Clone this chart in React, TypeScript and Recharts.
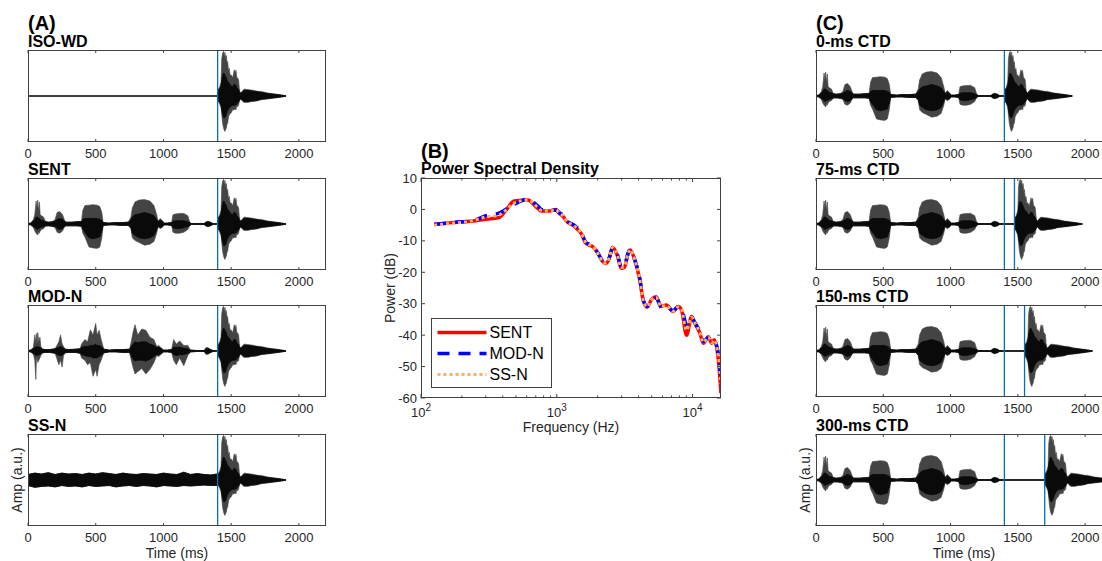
import { ComposedChart, Area, Line, XAxis, YAxis, ReferenceLine } from 'recharts'

const FONT = '"Liberation Sans", Arial, Helvetica, sans-serif'
const AXIS = '#404040'
const TXT = '#262626'
const MARK = '#0072BD'
const WAVE_OUTER = '#444444'
const WAVE_CORE = '#0a0a0a'

// ---- waveform envelopes (time in ms, amplitude in a.u.) ----
// outer = extreme peaks (grey in the figure), core = dense part (black)
const isoT = [0, 1395]
const isoHi = [0, 0]
const isoLo = [0, 0]

const sentT = [0, 20, 40, 50, 60, 66, 72, 78, 84, 90, 100, 115, 128, 150, 180, 200, 215, 235, 255, 270, 280, 320, 360, 395, 405, 420, 450, 480, 510, 530, 545, 555, 600, 640, 690, 740, 760, 770, 790, 820, 860, 900, 930, 950, 960, 975, 990, 1005, 1030, 1060, 1070, 1090, 1120, 1150, 1180, 1195, 1205, 1250, 1300, 1315, 1330, 1350, 1365, 1390]
const sentHi = [0.01, 0.02, 0.1, 0.2, 0.5, 0.35, 0.52, 0.3, 0.48, 0.2, 0.18, 0.15, 0.06, 0.04, 0.05, 0.1, 0.25, 0.27, 0.2, 0.08, 0.04, 0.04, 0.05, 0.06, 0.3, 0.4, 0.41, 0.42, 0.41, 0.38, 0.25, 0.03, 0.02, 0.03, 0.03, 0.04, 0.15, 0.35, 0.48, 0.52, 0.53, 0.5, 0.4, 0.2, 0.06, 0.12, 0.08, 0.02, 0.02, 0.03, 0.2, 0.22, 0.23, 0.23, 0.18, 0.03, 0.01, 0.01, 0.01, 0.05, 0.06, 0.04, 0.01, 0.005]
const sentLo = [-0.01, -0.02, -0.08, -0.15, -0.2, -0.22, -0.24, -0.18, -0.2, -0.15, -0.12, -0.1, -0.05, -0.04, -0.05, -0.08, -0.18, -0.2, -0.15, -0.06, -0.04, -0.04, -0.04, -0.05, -0.2, -0.28, -0.5, -0.52, -0.53, -0.5, -0.3, -0.03, -0.02, -0.02, -0.03, -0.03, -0.1, -0.3, -0.36, -0.4, -0.46, -0.44, -0.38, -0.2, -0.06, -0.1, -0.08, -0.02, -0.02, -0.03, -0.18, -0.2, -0.2, -0.18, -0.12, -0.03, -0.01, -0.01, -0.01, -0.05, -0.06, -0.04, -0.01, -0.005]
const sentCoreHi = [0.01, 0.02, 0.06, 0.1, 0.15, 0.15, 0.15, 0.12, 0.12, 0.1, 0.08, 0.07, 0.05, 0.04, 0.05, 0.06, 0.1, 0.12, 0.1, 0.06, 0.04, 0.04, 0.05, 0.05, 0.1, 0.12, 0.12, 0.12, 0.12, 0.1, 0.08, 0.03, 0.02, 0.03, 0.03, 0.04, 0.08, 0.15, 0.2, 0.22, 0.25, 0.22, 0.18, 0.1, 0.05, 0.08, 0.06, 0.02, 0.02, 0.03, 0.06, 0.07, 0.07, 0.07, 0.05, 0.03, 0.01, 0.01, 0.01, 0.04, 0.05, 0.03, 0.01, 0.005]
const sentCoreLo = [-0.01, -0.02, -0.05, -0.08, -0.1, -0.12, -0.12, -0.1, -0.1, -0.08, -0.07, -0.06, -0.04, -0.04, -0.05, -0.05, -0.1, -0.12, -0.1, -0.05, -0.04, -0.04, -0.04, -0.05, -0.12, -0.18, -0.3, -0.32, -0.3, -0.28, -0.15, -0.03, -0.02, -0.02, -0.03, -0.03, -0.08, -0.2, -0.25, -0.3, -0.32, -0.3, -0.25, -0.12, -0.05, -0.08, -0.06, -0.02, -0.02, -0.03, -0.08, -0.1, -0.1, -0.08, -0.06, -0.03, -0.01, -0.01, -0.01, -0.04, -0.05, -0.03, -0.01, -0.005]

const modT = [0, 20, 40, 50, 58, 62, 66, 72, 80, 88, 95, 105, 125, 160, 200, 228, 240, 252, 262, 275, 300, 350, 385, 395, 420, 440, 460, 480, 500, 510, 525, 540, 560, 600, 650, 700, 750, 762, 775, 790, 810, 840, 870, 900, 930, 950, 965, 980, 1000, 1030, 1060, 1075, 1095, 1120, 1150, 1180, 1200, 1250, 1300, 1315, 1330, 1350, 1365, 1390]
const modHi = [0.01, 0.02, 0.08, 0.35, 0.2, 0.38, 0.15, 0.4, 0.2, 0.3, 0.1, 0.05, 0.03, 0.03, 0.05, 0.2, 0.35, 0.15, 0.1, 0.04, 0.03, 0.04, 0.05, 0.15, 0.25, 0.2, 0.46, 0.35, 0.6, 0.35, 0.45, 0.25, 0.04, 0.02, 0.03, 0.03, 0.04, 0.2, 0.4, 0.57, 0.35, 0.48, 0.45, 0.3, 0.25, 0.1, 0.12, 0.08, 0.02, 0.02, 0.03, 0.25, 0.15, 0.22, 0.12, 0.12, 0.02, 0.01, 0.01, 0.08, 0.07, 0.03, 0.01, 0.005]
const modLo = [-0.01, -0.02, -0.08, -0.2, -0.62, -0.2, -0.15, -0.25, -0.2, -0.15, -0.1, -0.05, -0.03, -0.03, -0.05, -0.3, -0.2, -0.35, -0.1, -0.04, -0.03, -0.03, -0.05, -0.15, -0.2, -0.3, -0.25, -0.55, -0.4, -0.55, -0.3, -0.2, -0.04, -0.02, -0.02, -0.03, -0.03, -0.2, -0.35, -0.5, -0.45, -0.38, -0.5, -0.4, -0.25, -0.1, -0.12, -0.08, -0.02, -0.02, -0.03, -0.2, -0.3, -0.15, -0.32, -0.1, -0.02, -0.01, -0.01, -0.08, -0.07, -0.03, -0.01, -0.005]
const modCoreHi = [0.01, 0.02, 0.05, 0.08, 0.08, 0.1, 0.08, 0.1, 0.08, 0.08, 0.06, 0.04, 0.03, 0.03, 0.05, 0.08, 0.1, 0.08, 0.06, 0.04, 0.03, 0.04, 0.05, 0.08, 0.1, 0.1, 0.12, 0.12, 0.15, 0.12, 0.12, 0.1, 0.04, 0.02, 0.03, 0.03, 0.04, 0.1, 0.15, 0.2, 0.18, 0.2, 0.2, 0.15, 0.12, 0.08, 0.08, 0.06, 0.02, 0.02, 0.03, 0.08, 0.08, 0.08, 0.06, 0.05, 0.02, 0.01, 0.01, 0.05, 0.05, 0.03, 0.01, 0.005]
const modCoreLo = [-0.01, -0.02, -0.05, -0.08, -0.1, -0.1, -0.08, -0.1, -0.08, -0.08, -0.06, -0.04, -0.03, -0.03, -0.05, -0.1, -0.1, -0.1, -0.06, -0.04, -0.03, -0.03, -0.05, -0.08, -0.1, -0.12, -0.12, -0.15, -0.15, -0.15, -0.12, -0.1, -0.04, -0.02, -0.02, -0.03, -0.03, -0.1, -0.18, -0.22, -0.2, -0.2, -0.22, -0.18, -0.12, -0.08, -0.08, -0.06, -0.02, -0.02, -0.03, -0.08, -0.1, -0.08, -0.08, -0.05, -0.02, -0.01, -0.01, -0.05, -0.05, -0.03, -0.01, -0.005]

const ssT = [0, 50, 100, 150, 200, 250, 300, 350, 400, 450, 500, 550, 600, 650, 700, 750, 800, 850, 900, 950, 1000, 1050, 1100, 1150, 1200, 1250, 1300, 1350, 1395]
const ssHi = [0.12, 0.15, 0.13, 0.16, 0.12, 0.15, 0.13, 0.14, 0.12, 0.15, 0.13, 0.16, 0.14, 0.12, 0.15, 0.13, 0.12, 0.14, 0.13, 0.12, 0.15, 0.13, 0.12, 0.17, 0.12, 0.14, 0.12, 0.11, 0.13]
const ssLo = [-0.12, -0.16, -0.14, -0.13, -0.15, -0.12, -0.14, -0.13, -0.15, -0.12, -0.14, -0.13, -0.12, -0.15, -0.13, -0.12, -0.14, -0.12, -0.13, -0.15, -0.12, -0.13, -0.14, -0.12, -0.13, -0.12, -0.11, -0.12, -0.12]

// target word, time relative to its onset
const tgtT = [0, 3, 12, 25, 30, 37, 44, 50, 54, 60, 64, 70, 74, 80, 86, 92, 99, 111, 123, 130, 135, 142, 148, 155, 160, 165, 172, 185, 197, 222, 250, 271, 300, 320, 369, 443, 505]
const tgtHi = [0.005, 0.15, 0.17, 0.3, 0.8, 0.94, 0.97, 0.85, 0.95, 0.8, 0.88, 0.7, 0.75, 0.55, 0.6, 0.45, 0.46, 0.4, 0.57, 0.5, 0.56, 0.4, 0.39, 0.35, 0.17, 0.08, 0.065, 0.12, 0.15, 0.14, 0.13, 0.12, 0.1, 0.1, 0.065, 0.035, 0.005]
const tgtLo = [-0.005, -0.12, -0.15, -0.25, -0.4, -0.6, -0.7, -0.75, -0.77, -0.72, -0.7, -0.6, -0.6, -0.45, -0.42, -0.38, -0.37, -0.3, -0.3, -0.28, -0.3, -0.22, -0.23, -0.2, -0.12, -0.08, -0.065, -0.12, -0.14, -0.14, -0.12, -0.12, -0.1, -0.08, -0.065, -0.035, -0.005]
const tgtCoreHi = [0.005, 0.12, 0.14, 0.22, 0.35, 0.45, 0.5, 0.48, 0.45, 0.42, 0.4, 0.34, 0.32, 0.28, 0.28, 0.25, 0.22, 0.2, 0.26, 0.24, 0.24, 0.18, 0.16, 0.14, 0.1, 0.07, 0.06, 0.1, 0.12, 0.12, 0.11, 0.1, 0.09, 0.08, 0.055, 0.03, 0.005]
const tgtCoreLo = [-0.005, -0.1, -0.12, -0.2, -0.3, -0.4, -0.46, -0.48, -0.46, -0.44, -0.4, -0.34, -0.32, -0.28, -0.26, -0.24, -0.22, -0.2, -0.2, -0.19, -0.2, -0.16, -0.15, -0.13, -0.1, -0.07, -0.06, -0.1, -0.12, -0.12, -0.11, -0.1, -0.09, -0.07, -0.055, -0.03, -0.005]

const targetOnset = 1400
const timeTicks = [0, 500, 1000, 1500, 2000]
const leftTitles = ['ISO-WD', 'SENT', 'MOD-N', 'SS-N']
const ctdDelays = [0, 75, 150, 300]
const ctdTitles = ['0-ms CTD', '75-ms CTD', '150-ms CTD', '300-ms CTD']

// ---- power spectral density (dB) ----
const freqs = [125, 170, 240, 300, 375, 420, 485, 610, 720, 770, 880, 990, 1040, 1120, 1170, 1340, 1510, 1640, 1840, 2000, 2180, 2300, 2440, 2580, 2810, 2980, 3150, 3330, 3480, 3750, 4090, 4320, 4630, 4990, 5400, 5890, 6420, 7190, 7830, 8290, 9030, 9840, 10400, 11330, 12000, 13070, 13830, 14400, 15500, 16200]
const psdSent = [-4.7, -4.2, -3.7, -3.1, -2.6, -0.4, 2.7, 3.0, 0.4, -0.5, -0.5, 0.0, -1.2, -2.4, -3.6, -5.3, -7.6, -10.8, -11.9, -13.8, -16.6, -17.2, -15.5, -12.0, -15.0, -18.7, -18.4, -14.5, -12.9, -16.1, -22.5, -28.8, -31.1, -28.6, -27.8, -30.9, -30.4, -32.5, -30.9, -32.0, -40.0, -34.1, -36.2, -39.4, -42.6, -40.5, -42.6, -41.5, -47.9, -58.5]
const psdMod = [-4.8, -4.2, -3.6, -2.0, -1.2, 0.0, 1.6, 3.2, 1.2, 0.0, -0.4, -0.2, -1.0, -2.0, -3.4, -5.0, -7.2, -10.5, -11.6, -13.8, -16.4, -17.0, -15.2, -12.2, -14.6, -18.2, -18.0, -14.2, -12.7, -16.0, -22.0, -28.4, -30.8, -28.9, -28.2, -31.2, -30.8, -32.2, -31.0, -31.6, -36.5, -34.5, -36.0, -39.0, -42.0, -40.8, -42.2, -41.8, -46.0, -54.5]
const psdSS = [-5.0, -4.4, -3.6, -2.4, -1.8, -0.3, 2.0, 3.0, 0.8, -0.3, -0.5, -0.1, -1.1, -2.2, -3.5, -5.2, -7.4, -10.6, -11.8, -13.9, -16.5, -17.1, -15.3, -12.1, -14.8, -18.5, -18.2, -14.4, -12.8, -16.0, -22.3, -28.6, -31.0, -28.7, -28.0, -31.0, -30.6, -32.4, -31.0, -31.8, -38.5, -34.3, -36.1, -39.2, -42.3, -40.6, -42.4, -41.6, -46.8, -55.5]
const freqTicks = [100, 200, 300, 400, 500, 600, 700, 800, 900, 1000, 2000, 3000, 4000, 5000, 6000, 7000, 8000, 9000, 10000]
const powerTicks = [-60, -50, -40, -30, -20, -10, 0, 10]
const legendItems = [
  { name: 'SENT', color: '#FF0000', dash: undefined, width: 3.5 },
  { name: 'MOD-N', color: '#0000FF', dash: '12 9', width: 3.5 },
  { name: 'SS-N', color: '#FFB060', dash: '3 3', width: 3 },
]

type Row = { t: number; v: number[]; c: number[] }

const envRows = (t: number[], hi: number[], lo: number[], cHi: number[], cLo: number[], shift = 0): Row[] =>
  t.map((x, i) => ({ t: x + shift, v: [lo[i], hi[i]], c: [cLo[i], cHi[i]] }))

const withTarget = (ctx: Row[], delay: number) => [
  ...ctx,
  ...envRows(tgtT, tgtHi, tgtLo, tgtCoreHi, tgtCoreLo, targetOnset + delay),
]

const sentRows = envRows(sentT, sentHi, sentLo, sentCoreHi, sentCoreLo)
const leftData = [
  withTarget(envRows(isoT, isoHi, isoLo, isoHi, isoLo), 0),
  withTarget(sentRows, 0),
  withTarget(envRows(modT, modHi, modLo, modCoreHi, modCoreLo), 0),
  withTarget(envRows(ssT, ssHi, ssLo, ssHi, ssLo), 0),
]
const rightData = ctdDelays.map((d) => withTarget(sentRows, d))

const psdData = freqs.map((f, i) => ({ f, sent: psdSent[i], mod: psdMod[i], ss: psdSS[i] }))

const PANEL_TOPS = [50, 178, 305, 434]
const PANEL_H = 92
const LEFT_X = 28
const LEFT_W = 298
const RIGHT_X = 816
const RIGHT_W = 296

const PSD_X = 421
const PSD_Y = 178
const PSD_W = 300
const PSD_H = 220

function TimeTick(props: any) {
  const { x, y, payload } = props
  return (
    <g>
      <line x1={x} y1={y} x2={x} y2={y - 3} stroke={AXIS} />
      <line x1={x} y1={y - PANEL_H} x2={x} y2={y - PANEL_H + 3} stroke={AXIS} />
      <text x={x} y={y + 16} textAnchor="middle" fontSize={13} fill={TXT} fontFamily={FONT}>
        {payload.value}
      </text>
    </g>
  )
}

function WavePanel({ left, top, width, data, delay }: any) {
  return (
    <div style={{ position: 'absolute', left: left - 4, top: top - 4 }}>
      <ComposedChart
        width={width + 10}
        height={4 + PANEL_H + 22}
        data={data}
        margin={{ top: 4, right: 6, bottom: 0, left: 4 }}
      >
        <XAxis
          dataKey="t"
          type="number"
          domain={[0, 2200]}
          ticks={timeTicks}
          interval={0}
          allowDataOverflow
          axisLine={false}
          tickLine={false}
          tickSize={0}
          tickMargin={0}
          height={22}
          tick={(p: any) => <TimeTick {...p} />}
        />
        <YAxis hide type="number" domain={[-1, 1]} allowDataOverflow />
        <Area
          dataKey="v"
          type="linear"
          stroke={WAVE_OUTER}
          strokeWidth={0.6}
          fill={WAVE_OUTER}
          fillOpacity={1}
          dot={false}
          activeDot={false}
          isAnimationActive={false}
        />
        <Area
          dataKey="c"
          type="linear"
          stroke={WAVE_CORE}
          strokeWidth={0.8}
          fill={WAVE_CORE}
          fillOpacity={1}
          dot={false}
          activeDot={false}
          isAnimationActive={false}
        />
        <ReferenceLine x={targetOnset} stroke={MARK} strokeWidth={1.3} />
        {delay > 0 && <ReferenceLine x={targetOnset + delay} stroke={MARK} strokeWidth={1.3} />}
      </ComposedChart>
    </div>
  )
}

const isMajor = (v: number) => v === 100 || v === 1000 || v === 10000

function FreqTick(props: any) {
  const { x, y, payload } = props
  const v = payload.value as number
  const len = isMajor(v) ? 4 : 2.5
  return (
    <g>
      <line x1={x} y1={y} x2={x} y2={y - len} stroke={AXIS} />
      <line x1={x} y1={y - PSD_H} x2={x} y2={y - PSD_H + len} stroke={AXIS} />
      {isMajor(v) && (
        <text x={x} y={y + 18.5} textAnchor="middle" fontSize={13} fill={TXT} fontFamily={FONT}>
          10
          <tspan fontSize={10} dy={-6}>
            {Math.round(Math.log10(v))}
          </tspan>
        </text>
      )}
    </g>
  )
}

function PowerTick(props: any) {
  const { x, y, payload } = props
  return (
    <g>
      <line x1={x} y1={y} x2={x + 4} y2={y} stroke={AXIS} />
      <line x1={x + PSD_W} y1={y} x2={x + PSD_W - 4} y2={y} stroke={AXIS} />
      <text x={x - 4} y={y + 4.5} textAnchor="end" fontSize={13} fill={TXT} fontFamily={FONT}>
        {payload.value}
      </text>
    </g>
  )
}

function PsdPanel() {
  return (
    <div style={{ position: 'absolute', left: PSD_X - 81, top: PSD_Y - 8 }}>
      <ComposedChart
        width={81 + PSD_W + 10}
        height={8 + PSD_H + 40}
        data={psdData}
        margin={{ top: 8, right: 10, bottom: 0, left: 0 }}
      >
        <XAxis
          dataKey="f"
          type="number"
          scale="log"
          domain={[100, 16200]}
          ticks={freqTicks}
          interval={0}
          allowDataOverflow
          axisLine={false}
          tickLine={false}
          tickSize={0}
          tickMargin={0}
          height={40}
          tick={(p: any) => <FreqTick {...p} />}
        />
        <YAxis
          type="number"
          domain={[-60, 10]}
          ticks={powerTicks}
          interval={0}
          width={81}
          axisLine={false}
          tickLine={false}
          tickSize={0}
          tickMargin={0}
          tick={(p: any) => <PowerTick {...p} />}
        />
        <Line dataKey="sent" type="monotone" stroke="#FF0000" strokeWidth={3.5} dot={false} activeDot={false} isAnimationActive={false} />
        <Line dataKey="mod" type="monotone" stroke="#0000FF" strokeWidth={3.5} strokeDasharray="12 9" dot={false} activeDot={false} isAnimationActive={false} />
        <Line dataKey="ss" type="monotone" stroke="#FFB060" strokeWidth={3} strokeDasharray="3 3" dot={false} activeDot={false} isAnimationActive={false} />
      </ComposedChart>
    </div>
  )
}

function Overlay() {
  const titleStyle = { fontFamily: FONT, fontWeight: 700, fill: '#000' } as const
  return (
    <svg width={1102} height={561} style={{ position: 'absolute', left: 0, top: 0, pointerEvents: 'none' }}>
      <text x={LEFT_X} y={29.5} fontSize={20} {...titleStyle}>(A)</text>
      <text x={PSD_X} y={158} fontSize={20} {...titleStyle}>(B)</text>
      <text x={RIGHT_X} y={29.5} fontSize={20} {...titleStyle}>(C)</text>

      {PANEL_TOPS.map((top, i) => (
        <g key={i}>
          <text x={LEFT_X} y={top - 3} fontSize={16} {...titleStyle}>{leftTitles[i]}</text>
          <rect x={LEFT_X + 0.5} y={top + 0.5} width={LEFT_W - 1} height={PANEL_H - 1} fill="none" stroke={AXIS} />
          <text x={RIGHT_X} y={top - 3} fontSize={16} {...titleStyle}>{ctdTitles[i]}</text>
          <rect x={RIGHT_X + 0.5} y={top + 0.5} width={RIGHT_W - 1} height={PANEL_H - 1} fill="none" stroke={AXIS} />
        </g>
      ))}

      <text x={LEFT_X + LEFT_W / 2} y={558} textAnchor="middle" fontSize={14} fill={TXT} fontFamily={FONT}>Time (ms)</text>
      <text x={RIGHT_X + 148} y={558} textAnchor="middle" fontSize={14} fill={TXT} fontFamily={FONT}>Time (ms)</text>
      <text transform={`translate(22, ${PANEL_TOPS[3] + PANEL_H / 2}) rotate(-90)`} textAnchor="middle" fontSize={14} fill={TXT} fontFamily={FONT}>Amp (a.u.)</text>
      <text transform={`translate(${RIGHT_X - 6}, ${PANEL_TOPS[3] + PANEL_H / 2}) rotate(-90)`} textAnchor="middle" fontSize={14} fill={TXT} fontFamily={FONT}>Amp (a.u.)</text>

      <text x={PSD_X} y={174} fontSize={16} {...titleStyle}>Power Spectral Density</text>
      <rect x={PSD_X + 0.5} y={PSD_Y + 0.5} width={PSD_W - 1} height={PSD_H - 1} fill="none" stroke={AXIS} />
      <text transform={`translate(395, ${PSD_Y + PSD_H / 2}) rotate(-90)`} textAnchor="middle" fontSize={14} fill={TXT} fontFamily={FONT}>Power (dB)</text>
      <text x={PSD_X + PSD_W / 2} y={432} textAnchor="middle" fontSize={14} fill={TXT} fontFamily={FONT}>Frequency (Hz)</text>

      <g transform="translate(431.5, 318.5)">
        <rect x={0} y={0} width={120} height={69} fill="#fff" stroke={AXIS} />
        {legendItems.map((it, i) => (
          <g key={it.name}>
            <line x1={6} y1={14 + i * 21} x2={55} y2={14 + i * 21} stroke={it.color} strokeWidth={it.width} strokeDasharray={it.dash} />
            <text x={58} y={19.5 + i * 21} fontSize={16} fill="#000" fontFamily={FONT}>{it.name}</text>
          </g>
        ))}
      </g>
    </svg>
  )
}

export default function App() {
  return (
    <div style={{ position: 'absolute', left: 0, top: 0, width: 1102, height: 561, overflow: 'hidden', background: '#fff' }}>
      {PANEL_TOPS.map((top, i) => (
        <WavePanel key={'l' + i} left={LEFT_X} top={top} width={LEFT_W} data={leftData[i]} delay={0} />
      ))}
      {PANEL_TOPS.map((top, i) => (
        <WavePanel key={'r' + i} left={RIGHT_X} top={top} width={RIGHT_W} data={rightData[i]} delay={ctdDelays[i]} />
      ))}
      <PsdPanel />
      <Overlay />
    </div>
  )
}
